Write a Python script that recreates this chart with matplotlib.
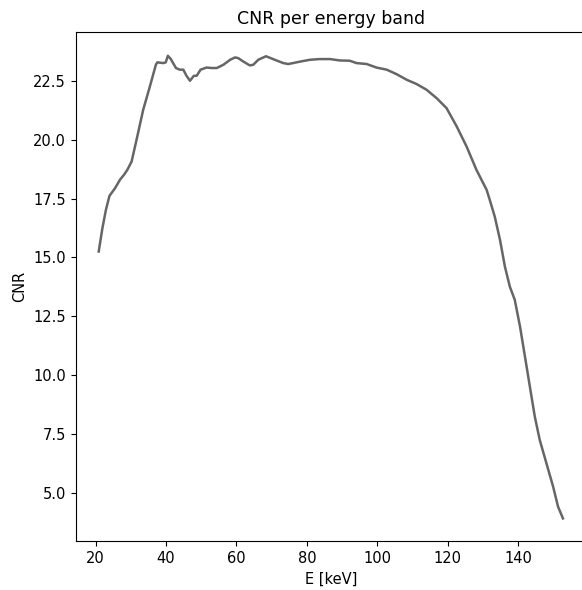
import numpy as np
import matplotlib
matplotlib.use("Agg")
import matplotlib.pyplot as plt

# energy [keV] and CNR values
energy = [20.85, 21.9, 22.9, 23.9, 25.5, 26.9, 28.0, 29.0, 30.2, 31.6, 33.5, 35.4,
          37.1, 37.5, 39.2, 39.9, 40.5, 41.3, 42.8, 43.9, 44.9, 45.8, 46.8, 47.9,
          48.7, 49.8, 51.5, 53.0, 54.4, 56.3, 58.2, 59.6, 60.5, 61.9, 63.8, 64.8,
          66.2, 68.4, 70.9, 73.3, 74.7, 76.1, 78.0, 80.9, 83.7, 86.6, 89.4, 92.2,
          94.1, 97.0, 99.8, 102.7, 105.5, 108.4, 111.2, 114.0, 116.9, 119.7, 122.6,
          125.4, 128.2, 131.1, 132.0, 133.4, 134.9, 136.3, 137.7, 139.1, 140.6,
          142.0, 143.4, 144.8, 146.2, 148.1, 150.0, 151.4, 152.8]
cnr = [15.25, 16.24, 17.02, 17.61, 17.94, 18.30, 18.50, 18.72, 19.07, 19.99, 21.27, 22.26,
       23.18, 23.28, 23.25, 23.28, 23.56, 23.43, 23.04, 22.97, 22.97, 22.71, 22.50, 22.71,
       22.71, 22.97, 23.06, 23.04, 23.04, 23.18, 23.39, 23.49, 23.46, 23.32, 23.15, 23.18,
       23.39, 23.54, 23.39, 23.25, 23.21, 23.25, 23.31, 23.39, 23.42, 23.42, 23.36, 23.35,
       23.25, 23.21, 23.06, 22.97, 22.78, 22.54, 22.36, 22.12, 21.76, 21.34, 20.56,
       19.71, 18.72, 17.87, 17.44, 16.74, 15.75, 14.61, 13.76, 13.20, 12.06,
       10.79, 9.51, 8.24, 7.25, 6.26, 5.27, 4.42, 3.92]

plt.rcParams['font.size'] = 10.5

fig = plt.figure(figsize=(5.82, 5.90), dpi=100)
ax = fig.add_axes([0.130, 0.083, 0.879, 0.862])

ax.plot(energy, cnr, color='#666666', lw=1.8)
ax.set_xlim(14.3, 159.7)
ax.set_ylim(2.96, 24.55)
ax.set_xticks([20, 40, 60, 80, 100, 120, 140])
ax.set_yticks([5.0, 7.5, 10.0, 12.5, 15.0, 17.5, 20.0, 22.5])

ax.set_title('CNR per energy band', fontsize=12.5)
ax.set_xlabel('E [keV]')
ax.set_ylabel('CNR')

fig.savefig('out.png', dpi=100)
